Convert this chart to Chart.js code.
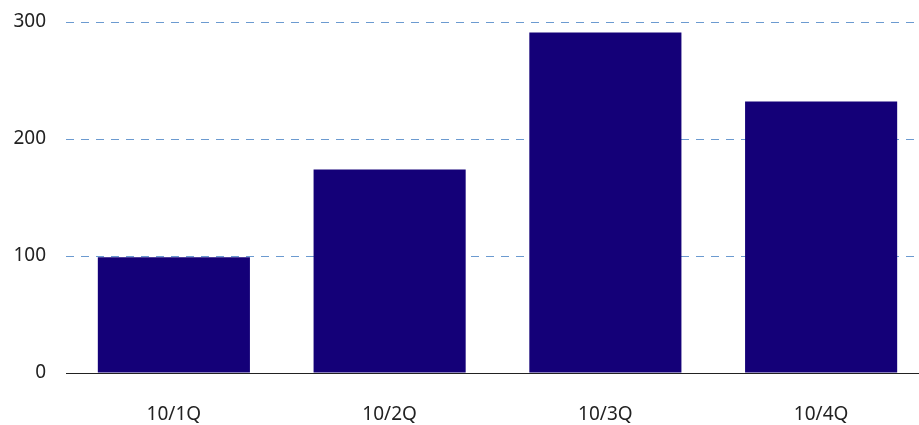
<!DOCTYPE html>
<html>
<head>
  <meta charset="UTF-8">
  <title>Bar chart</title>
  <script src="https://cdn.jsdelivr.net/npm/chart.js"></script>
  <style>
    html, body {
      margin: 0;
      padding: 0;
      background: #ffffff;
    }
    #clip {
      width: 919px;
      height: 425px;
      overflow: hidden;
    }
    /* the plot runs a little past the right edge, as in the original */
    #wrap {
      width: 929px;
      height: 425px;
      position: relative;
    }
  </style>
</head>
<body>
  <div id="clip">
    <div id="wrap">
      <canvas id="chart"></canvas>
    </div>
  </div>

  <script>
    // data
    const categories = ['10/1Q', '10/2Q', '10/3Q', '10/4Q'];
    const values = [99, 174, 291, 232];
    const yTicks = [0, 100, 200, 300];

    const ctx = document.getElementById('chart').getContext('2d');

    new Chart(ctx, {
      type: 'bar',
      data: {
        labels: categories,
        datasets: [{
          data: values,
          backgroundColor: '#140078',
          borderWidth: 0,
          categoryPercentage: 0.705,
          barPercentage: 1
        }]
      },
      options: {
        responsive: true,
        maintainAspectRatio: false,
        animation: false,
        layout: {
          padding: { top: 22, left: 0, right: 0, bottom: 0 }
        },
        plugins: {
          legend: { display: false },
          tooltip: { enabled: false }
        },
        scales: {
          x: {
            afterFit: s => { s.height = 52; },
            grid: { display: false, drawTicks: false },
            border: { display: true, color: '#222222', width: 1 },
            ticks: {
              color: '#222222',
              padding: 30,
              maxRotation: 0,
              font: { family: 'Noto Sans', size: 19 }
            }
          },
          y: {
            min: 0,
            max: 300,
            afterFit: s => {
              s.width = 66;
              s.paddingTop = 0;
              s.paddingBottom = 0;
            },
            afterBuildTicks: axis => {
              axis.ticks = yTicks.map(v => ({ value: v }));
            },
            border: { display: false, dash: [8, 7] },
            grid: {
              drawTicks: false,
              color: c => c.tick.value === 0 ? 'rgba(0,0,0,0)' : '#6b9ad0',
              lineWidth: 1
            },
            ticks: {
              color: '#222222',
              padding: 20,
              font: { family: 'Noto Sans', size: 19 }
            }
          }
        }
      }
    });
  </script>
</body>
</html>
